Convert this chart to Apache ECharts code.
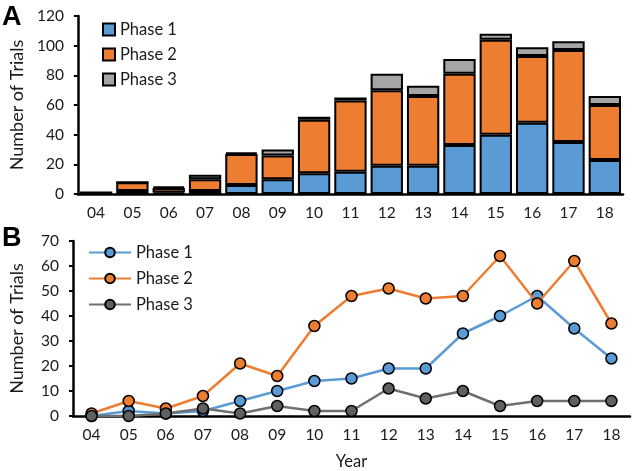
<!DOCTYPE html>
<html>
<head>
<meta charset="utf-8">
<script src="https://cdn.jsdelivr.net/npm/echarts@6/dist/echarts.min.js"></script>
<style>html,body{margin:0;padding:0;background:#fff}#c{width:634px;height:471px}</style>
</head>
<body>
<div id="c"></div>
<script>
var years = ['04','05','06','07','08','09','10','11','12','13','14','15','16','17','18'];
var phase1 = [0, 2, 1, 2, 6, 10, 14, 15, 19, 19, 33, 40, 48, 35, 23];
var phase2 = [1, 6, 3, 8, 21, 16, 36, 48, 51, 47, 48, 64, 45, 62, 37];
var phase3 = [0, 0, 1, 3, 1, 4, 2, 2, 11, 7, 10, 4, 6, 6, 6];
var seriesNames = ['Phase 1', 'Phase 2', 'Phase 3'];
var barColors = ['#5B9BD5', '#ED7D31', '#A5A5A5'];
var lineColors = ['#5B9BD5', '#ED7D31', '#707070'];
var markerColors = ['#5B9BD5', '#ED7D31', '#606060'];
var FONT = 'Lato';
var TXT = '#1a1a1a';

var chart = echarts.init(document.getElementById('c'), null, {renderer: 'canvas'});
var data = [phase1, phase2, phase3];

function xAxis(gi, withName) {
  return {
    type: 'category', gridIndex: gi, data: years, boundaryGap: true,
    axisLine: {lineStyle: {color: '#000', width: 2.5}},
    axisTick: {alignWithLabel: true, length: 4, lineStyle: {color: '#000', width: 2}},
    axisLabel: {color: TXT, fontSize: 15.5, fontFamily: FONT, margin: 11},
    name: withName ? 'Year' : '', nameLocation: 'middle', nameGap: 37,
    nameTextStyle: {color: TXT, fontSize: 16.5, fontFamily: FONT}
  };
}
function yAxis(gi, max, interval) {
  return {
    type: 'value', gridIndex: gi, min: 0, max: max, interval: interval,
    splitLine: {show: false},
    axisLine: {show: true, lineStyle: {color: '#000', width: 2.5}},
    axisTick: {show: true, length: 4, lineStyle: {color: '#000', width: 2}},
    axisLabel: {color: TXT, fontSize: 15.5, fontFamily: FONT, margin: 14},
    name: 'Number of Trials', nameLocation: 'middle', nameGap: 47, nameRotate: 90,
    nameTextStyle: {color: TXT, fontSize: 18, fontFamily: FONT}
  };
}

var series = [];
for (var i = 0; i < 3; i++) {
  series.push({
    name: seriesNames[i], type: 'bar', stack: 'total', xAxisIndex: 0, yAxisIndex: 0,
    data: data[i], barCategoryGap: '11%',
    itemStyle: {color: barColors[i], borderColor: '#000', borderWidth: 2},
    emphasis: {disabled: true}
  });
}
for (var j = 0; j < 3; j++) {
  series.push({
    name: seriesNames[j] + ' ', type: 'line', xAxisIndex: 1, yAxisIndex: 1,
    data: data[j], symbol: 'circle', symbolSize: 11,
    lineStyle: {color: lineColors[j], width: 2.5},
    itemStyle: {color: markerColors[j], borderColor: '#000', borderWidth: 1.5},
    z: 3 + j,
    emphasis: {disabled: true}
  });
}

chart.setOption({
  animation: false,
  textStyle: {fontFamily: FONT},
  grid: [
    {left: 68, right: 11, top: 16, bottom: 277},
    {left: 67, right: 4, top: 241, bottom: 53}
  ],
  xAxis: [xAxis(0, false), xAxis(1, true)],
  yAxis: [yAxis(0, 120, 20), yAxis(1, 70, 10)],
  legend: [
    {data: seriesNames.map(function(n){return {name: n, icon: 'rect'};}),
     orient: 'vertical', left: 97, top: 16, itemWidth: 12, itemHeight: 12, itemGap: 8,
     textStyle: {fontSize: 16.5, color: TXT, fontFamily: FONT}},
    {data: seriesNames.map(function(n){return n + ' ';}),
     orient: 'vertical', left: 83, top: 239, itemWidth: 42, itemHeight: 12, itemGap: 9,
     textStyle: {fontSize: 16.5, color: TXT, fontFamily: FONT}}
  ],
  graphic: [
    {type: 'text', left: 2, top: 4, style: {text: 'A', font: 'bold 27px "Liberation Sans"', fill: '#000'}},
    {type: 'text', left: 2, top: 225, style: {text: 'B', font: 'bold 27px "Liberation Sans"', fill: '#000'}}
  ],
  series: series
});
</script>
</body>
</html>
